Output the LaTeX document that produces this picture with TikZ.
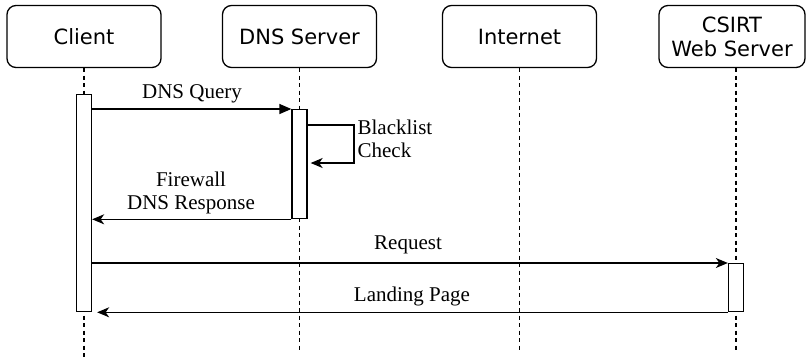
\documentclass[tikz,border=0pt]{standalone}
\usepackage{fontspec}
\setmainfont{Liberation Serif}
\setsansfont{DejaVu Sans}
\usetikzlibrary{arrows.meta}
\begin{document}
\begin{tikzpicture}[x=1pt,y=-1pt,line width=1.3pt,
  actor/.style={draw, rounded corners=9pt, minimum width=154pt, minimum height=62pt, inner sep=0pt, align=center, font=\sffamily\fontsize{21}{24}\selectfont},
  act/.style={draw, fill=white, minimum width=15pt, inner sep=0pt},
  life/.style={line width=1.2pt, dash pattern=on 4pt off 3.5pt},
  msg/.style={-{Stealth[length=12pt,width=10pt,inset=3.5pt]}},
  lbl/.style={align=center, inner sep=0pt, font=\fontsize{21}{23}\selectfont}]
\useasboundingbox (0,0) rectangle (808,360);
% participants
\node[actor] (client) at (84,36.5) {Client};
\node[actor] (dns) at (299.5,36.5) {DNS Server};
\node[actor] (inet) at (519.5,36.5) {Internet};
\node[actor, minimum width=146pt] (csirt) at (732,36.5) {CSIRT\\Web Server};
% lifelines
\coordinate (clientEnd) at (84,357); \coordinate (dnsEnd) at (299.5,352);
\coordinate (inetEnd) at (519.5,352); \coordinate (csirtEnd) at (736,352);
\draw[life] (client) -- (clientEnd); \draw[life] (dns) -- (dnsEnd);
\draw[life] (inet) -- (inetEnd); \draw[life] (csirtEnd |- csirt.south) -- (csirtEnd);
% activations
\node[act, minimum height=217pt, anchor=north] (clientAct) at (84,94) {};
\node[act, minimum height=109pt, anchor=north] (dnsAct) at (299.5,109) {};
\node[act, minimum height=48pt, anchor=north] (csirtAct) at (736,263) {};
% messages
\draw[-{Triangle[length=12pt,width=10pt]}] (clientAct.east |- dnsAct.north) -- (dnsAct.north west);
\node[lbl] (qLbl) at (192,94) {DNS Query};
\coordinate (chkR) at (354,125); \coordinate (chkB) at (354,163);
\draw[msg] (dnsAct.east |- chkR) -- (chkR) -- (chkB) -- ([xshift=3pt]dnsAct.east |- chkB);
\node[lbl, anchor=west, align=left] (chkLbl) at (357,139) {Blacklist\\Check};
\draw[msg] (dnsAct.south west) -- (clientAct.east |- dnsAct.south);
\node[lbl] (rLbl) at (191,193) {Firewall\\DNS Response};
\draw[msg] (clientAct.east |- csirtAct.north) -- (csirtAct.north west);
\node[lbl] (reqLbl) at (408,245) {Request};
\draw[msg] (csirtAct.south west) -- ([xshift=5pt]clientAct.south east);
\node[lbl] (lpLbl) at (412,296) {Landing Page};
\end{tikzpicture}
\end{document}
